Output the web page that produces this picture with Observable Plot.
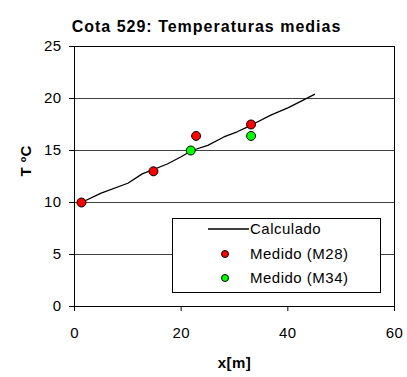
<!DOCTYPE html>
<html>
<head>
<meta charset="utf-8">
<script src="https://cdn.jsdelivr.net/npm/d3@7"></script>
<script src="https://cdn.jsdelivr.net/npm/@observablehq/plot@0.6"></script>
<style>
  body { margin: 0; background: #fff; font-family: "Liberation Sans", Arial, sans-serif; }
  #wrap { position: relative; width: 407px; height: 377px; }
  #legend {
    position: absolute; left: 172px; top: 218px; width: 209px; height: 75px;
    background: #fff; border: 1px solid #000; box-sizing: border-box;
  }
  #legend svg { display: block; }
</style>
</head>
<body>
<div id="wrap"></div>
<script>
// Temperatura calculada a lo largo del eje x
const calcX = [1.3, 5, 10, 12.7, 17.4, 20, 22, 25, 28, 30.5, 33, 36.8, 40, 42.7, 45];
const calcT = [10, 10.9, 11.85, 12.75, 13.7, 14.4, 15, 15.5, 16.3, 16.8, 17.4, 18.4, 19.1, 19.8, 20.4];

// Medidas de los sensores
const m28X = [1.3, 14.8, 22.8, 33.1];
const m28T = [10, 13, 16.4, 17.5];
const m34X = [21.8, 33.1];
const m34T = [15, 16.4];

const xTicks = [0, 20, 40, 60];
const yTicks = [0, 5, 10, 15, 20, 25];

const title = "Cota 529: Temperaturas medias";
const xLabel = "x[m]";
const yLabel = "T ºC";
const seriesNames = ["Calculado", "Medido (M28)", "Medido (M34)"];
const seriesColors = ["#000000", "#ff0000", "#00ff00"];

const calc = calcX.map((x, i) => ({x, t: calcT[i]}));
const m28 = m28X.map((x, i) => ({x, t: m28T[i]}));
const m34 = m34X.map((x, i) => ({x, t: m34T[i]}));

const font = "Liberation Sans, Arial, sans-serif";

const chart = Plot.plot({
  width: 407,
  height: 377,
  marginTop: 46,
  marginLeft: 74,
  marginRight: 13,
  marginBottom: 71,
  style: {fontFamily: font, fontSize: "15px", color: "#000", background: "#fff", letterSpacing: "0.4px"},
  x: {domain: [0, 60], ticks: xTicks},
  y: {domain: [0, 25], ticks: yTicks},
  marks: [
    Plot.gridY(yTicks, {stroke: "#404040", strokeOpacity: 1, strokeWidth: 1}),
    Plot.frame({stroke: "#000"}),
    Plot.axisY(yTicks, {tickSize: 5, tickPadding: 8, label: null, fontSize: 15}),
    Plot.axisX(xTicks, {tickSize: 5, tickPadding: 16, label: null, fontSize: 15}),
    Plot.line(calc, {x: "x", y: "t", stroke: seriesColors[0], strokeWidth: 1.3}),
    Plot.dot(m28, {x: "x", y: "t", r: 4.5, fill: seriesColors[1], stroke: "#000", strokeWidth: 1}),
    Plot.dot(m34, {x: "x", y: "t", r: 4.5, fill: seriesColors[2], stroke: "#000", strokeWidth: 1}),
    Plot.text([title], {frameAnchor: "top", dx: -28, dy: -26, fontWeight: "bold", fontSize: 16, fill: "#000"}),
    Plot.text([xLabel], {frameAnchor: "bottom", dy: 61, fontWeight: "bold", fontSize: 15, fill: "#000"}),
    Plot.text([yLabel], {frameAnchor: "left", dx: -48, rotate: -90, fontWeight: "bold", fontSize: 15, fill: "#000"})
  ]
});

// Título con espaciado entre letras
d3.select(chart).selectAll("text")
  .filter(function () { return this.textContent === title; })
  .attr("letter-spacing", "1px");

const wrap = document.getElementById("wrap");
wrap.appendChild(chart);

// Leyenda
const legend = document.createElement("div");
legend.id = "legend";
wrap.appendChild(legend);
const lsvg = d3.select(legend).append("svg").attr("width", 207).attr("height", 73);
const rows = [10, 35, 59];
seriesNames.forEach((name, i) => {
  const g = lsvg.append("g").attr("transform", `translate(0,${rows[i]})`);
  if (i === 0) {
    g.append("line").attr("x1", 35).attr("x2", 76).attr("y1", 0).attr("y2", 0)
      .attr("stroke", seriesColors[0]).attr("stroke-width", 1.3);
  } else {
    g.append("circle").attr("cx", 52).attr("cy", 0).attr("r", 3.5)
      .attr("fill", seriesColors[i]).attr("stroke", "#000").attr("stroke-width", 1);
  }
  g.append("text").attr("x", 77).attr("y", 0).attr("dy", "0.35em")
    .attr("font-family", font).attr("font-size", 15).attr("letter-spacing", "0.5px").text(name);
});
</script>
</body>
</html>
